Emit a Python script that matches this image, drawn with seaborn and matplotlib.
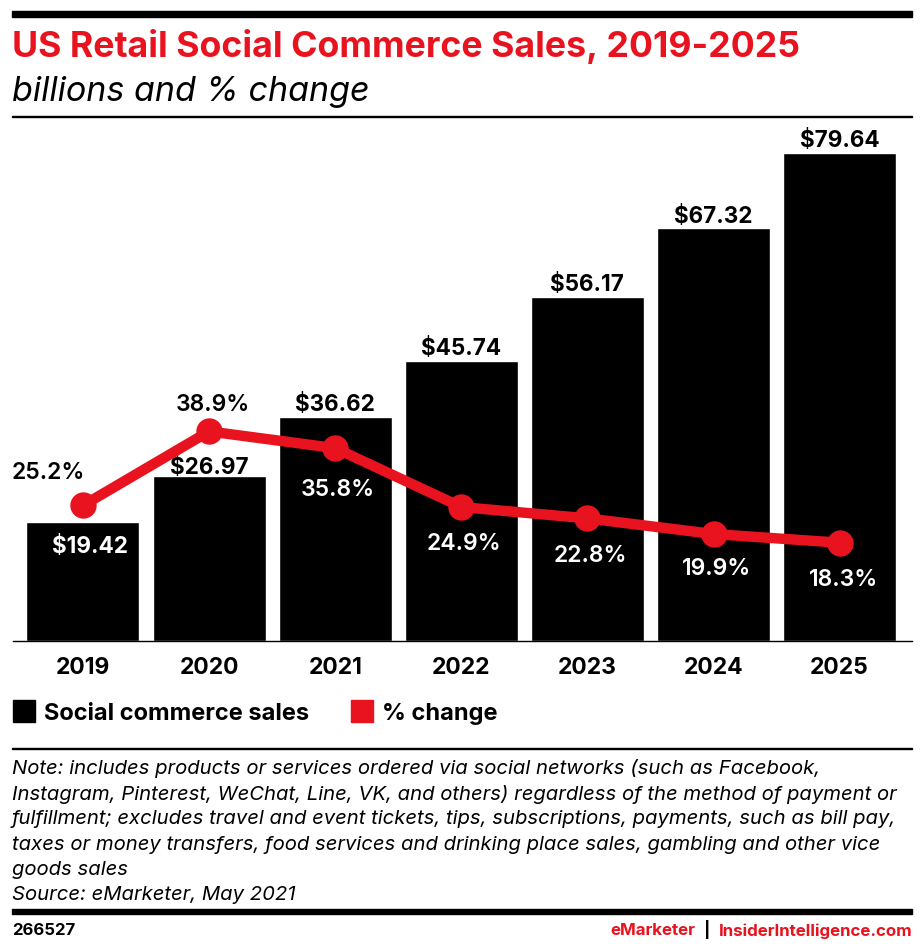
import pandas as pd
import seaborn as sns
import matplotlib.pyplot as plt
from matplotlib.patches import Rectangle

years = ['2019', '2020', '2021', '2022', '2023', '2024', '2025']
sales = [19.42, 26.97, 36.62, 45.74, 56.17, 67.32, 79.64]
pct_change = [25.2, 38.9, 35.8, 24.9, 22.8, 19.9, 18.3]
sales_labels = ['$19.42', '$26.97', '$36.62', '$45.74', '$56.17', '$67.32', '$79.64']
pct_labels = ['25.2%', '38.9%', '35.8%', '24.9%', '22.8%', '19.9%', '18.3%']

note_lines = [
    'Note: includes products or services ordered via social networks (such as Facebook,',
    'Instagram, Pinterest, WeChat, Line, VK, and others) regardless of the method of payment or',
    'fulfillment; excludes travel and event tickets, tips, subscriptions, payments, such as bill pay,',
    'taxes or money transfers, food services and drinking place sales, gambling and other vice',
    'goods sales',
    'Source: eMarketer, May 2021',
]

RED = '#e8131f'
W, H = 922, 953

sns.set_style('white')
plt.rcParams['font.family'] = ['Inter', 'Lato', 'DejaVu Sans']

df = pd.DataFrame({'year': years, 'sales': sales, 'pct': pct_change})

fig = plt.figure(figsize=(W / 100, H / 100), dpi=100)

# axes cover the plot area, pixel positions
left, right, top, bottom = 13, 912, 118, 642
ax = fig.add_axes([left / W, 1 - bottom / H, (right - left) / W, (bottom - top) / H])
sns.barplot(data=df, x='year', y='sales', color='black', width=0.896, saturation=1, ax=ax)
ax.set_xlim(-0.555, 6.574)
ax.set_ylim(0, 85.5)
ax.set_xlabel('')
ax.set_ylabel('')
ax.set_yticks([])
ax.tick_params(axis='x', length=0, pad=11, labelsize=16.5, labelcolor='black')
for t in ax.get_xticklabels():
    t.set_fontweight('bold')
sns.despine(ax=ax, left=True)
ax.spines['bottom'].set_color('black')
ax.spines['bottom'].set_linewidth(1)

# % change goes on its own hidden scale
ax2 = ax.twinx()
sns.lineplot(data=df, x='year', y='pct', color=RED, linewidth=7.5, marker='o', markersize=19,
             markeredgewidth=0, ax=ax2, legend=False)
ax2.set_ylim(0.1, 97.1)
ax2.set_yticks([])
ax2.set_ylabel('')
ax2.set_xlabel('')
sns.despine(ax=ax2, left=True, bottom=True)
ax2.patch.set_visible(False)

# label offsets above each bar, in points
sales_offsets = [(5, -17), (0, 6.5), (0, 9), (0, 9), (0, 9), (0, 9), (0, 9)]
sales_colors = ['white', 'black', 'black', 'black', 'black', 'black', 'black']
for i, (v, lab) in enumerate(zip(sales, sales_labels)):
    ax.annotate(lab, (i, v), xytext=sales_offsets[i], textcoords='offset points', ha='center', va='center',
                color=sales_colors[i], fontsize=16.2, fontweight='bold')

# label offsets from each marker, in points
pct_offsets = [(-25, 24), (3, 20), (2, -29.5), (2, -26), (2, -26.5), (2, -24.5), (3, -26.5)]
pct_colors = ['black', 'black', 'white', 'white', 'white', 'white', 'white']
for i, (v, lab) in enumerate(zip(pct_change, pct_labels)):
    ax2.annotate(lab, (i, v), xytext=pct_offsets[i], textcoords='offset points', ha='center', va='center',
                 color=pct_colors[i], fontsize=16.5, fontweight='semibold')

# header
fig.add_artist(Rectangle((12 / W, 1 - 18 / H), 900 / W, 6 / H, transform=fig.transFigure, color='black'))
fig.text(12 / W, 1 - 46 / H, 'US Retail Social Commerce Sales, 2019-2025', color=RED, fontsize=25.7,
         fontweight='bold', va='center')
fig.text(12 / W, 1 - 92 / H, 'billions and % change', color='black', fontsize=24.5, style='italic', va='center')
fig.add_artist(Rectangle((12 / W, 1 - 118 / H), 900 / W, 1.5 / H, transform=fig.transFigure, color='black'))

# legend
fig.add_artist(Rectangle((13 / W, 1 - 723 / H), 22 / W, 22 / H, transform=fig.transFigure, color='black'))
fig.text(44 / W, 1 - 714 / H, 'Social commerce sales', color='black', fontsize=17, fontweight='bold', va='center')
fig.add_artist(Rectangle((351 / W, 1 - 723 / H), 22 / W, 22 / H, transform=fig.transFigure, color=RED))
fig.text(382 / W, 1 - 714 / H, '% change', color='black', fontsize=17, fontweight='bold', va='center')

# notes
fig.add_artist(Rectangle((12 / W, 1 - 750 / H), 900 / W, 1.5 / H, transform=fig.transFigure, color='black'))
for i, line in enumerate(note_lines):
    fig.text(12 / W, 1 - (769 + i * 25.2) / H, line, color='black', fontsize=14.6, style='italic', va='center')

# footer
fig.add_artist(Rectangle((12 / W, 1 - 915 / H), 900 / W, 5 / H, transform=fig.transFigure, color='black'))
fig.text(12 / W, 1 - 931 / H, '266527', color='black', fontsize=12, fontweight='bold', va='center')
fig.text(912 / W, 1 - 931 / H, 'InsiderIntelligence.com', color=RED, fontsize=12.2, fontweight='bold', va='center', ha='right')
fig.text(707.5 / W, 1 - 930 / H, '|', color='black', fontsize=12.2, fontweight='bold', va='center', ha='center')
fig.text(695 / W, 1 - 931 / H, 'eMarketer', color=RED, fontsize=12.2, fontweight='bold', va='center', ha='right')

fig.savefig('out.png', dpi=100)
